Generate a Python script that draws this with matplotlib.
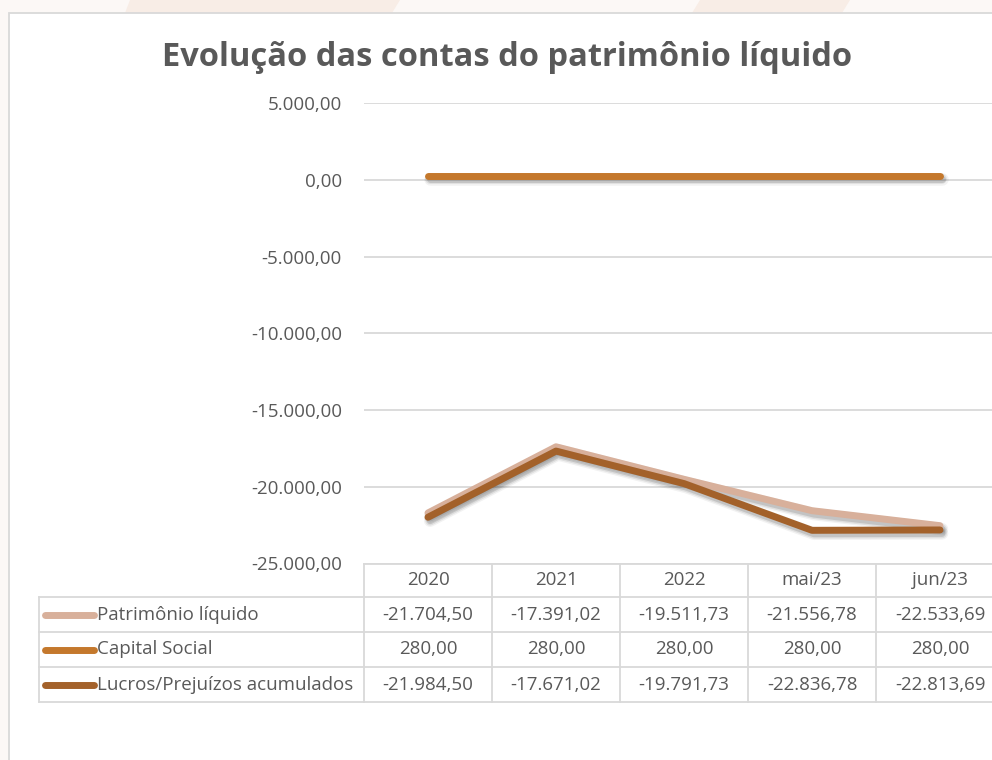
import matplotlib
matplotlib.use("Agg")
import matplotlib.pyplot as plt
import matplotlib.patheffects as pe
from matplotlib.lines import Line2D
from matplotlib.patches import Rectangle, Polygon
from matplotlib.transforms import blended_transform_factory

plt.rcParams['font.family'] = ['Open Sans', 'DejaVu Sans']

# ---- data ----
categories = ["2020", "2021", "2022", "mai/23", "jun/23"]
series_names = ["Patrimônio líquido", "Capital Social", "Lucros/Prejuízos acumulados"]
patrimonio_liquido = [-21704.50, -17391.02, -19511.73, -21556.78, -22533.69]
capital_social = [280.00, 280.00, 280.00, 280.00, 280.00]
lucros_prejuizos = [-21984.50, -17671.02, -19791.73, -22836.78, -22813.69]
y_ticks = [5000, 0, -5000, -10000, -15000, -20000, -25000]
title = "Evolução das contas do patrimônio líquido"

series_values = [patrimonio_liquido, capital_social, lucros_prejuizos]
colors = ["#D8B09B", "#C4782C", "#A3612A"]
TXT = "#595959"
GRID = "#D9D9D9"


def fmt(v):
    s = f"{v:,.2f}"
    return s.replace(",", "X").replace(".", ",").replace("X", ".")


W, H = 992, 760
fig = plt.figure(figsize=(W / 100, H / 100), dpi=100)
fig.patch.set_facecolor("#FCF8F6")

def fx(px):
    return px / W

def fy(py):
    return 1 - py / H

# faint decorative shapes at top
for pts in ([(130, 0), (400, 0), (392, 13), (125, 13)], [(700, 0), (850, 0), (842, 13), (692, 13)]):
    fig.add_artist(Polygon([(fx(a), fy(b)) for a, b in pts], closed=True,
                           transform=fig.transFigure, facecolor="#F8EDE6",
                           edgecolor="none", zorder=0))

# chart area
fig.add_artist(Rectangle((fx(9), fy(800)), fx(1100), fy(13) - fy(800),
                         transform=fig.transFigure, facecolor="white",
                         edgecolor=GRID, linewidth=1.3, zorder=0))

# axes: left at 364px, 128px per category, y 103 -> 563
ax_left, ax_top, ax_bottom = 364, 103.3, 563.5
n = len(categories)
ax = fig.add_axes([fx(ax_left), fy(ax_bottom), fx(128 * n), (ax_bottom - ax_top) / H])
ax.set_facecolor("none")
ax.set_xlim(-0.5, n - 0.5)
ax.set_ylim(-25000, 5000)
ax.set_yticks(y_ticks)
ax.set_yticklabels([fmt(v) for v in y_ticks], fontsize=13.5, color=TXT)
ax.tick_params(axis="y", length=0, pad=16)
ax.set_xticks([])
for sp in ax.spines.values():
    sp.set_visible(False)
ax.grid(axis="y", color=GRID, linewidth=1.3)
ax.set_axisbelow(True)

x = list(range(n))
shadow = [pe.Stroke(offset=(1.5, -2.5), linewidth=9, foreground="black", alpha=0.05),
          pe.Stroke(offset=(1.5, -2.5), linewidth=7, foreground="black", alpha=0.08),
          pe.Stroke(offset=(1.5, -2.5), linewidth=5, foreground="black", alpha=0.12),
          pe.Normal()]
for vals, c in zip(series_values, colors):
    ax.plot(x, vals, color=c, linewidth=5, solid_capstyle="round",
            solid_joinstyle="round", clip_on=False, path_effects=shadow)

fig.text(fx(507), fy(57), title, ha="center", va="center", fontsize=23.5,
         fontweight="bold", color=TXT)

# ---- data table ----
bt = blended_transform_factory(ax.transData, fig.transFigure)
header_top, row_edges = 563.5, [597, 632, 667, 702]
table_left = 39
lw = 1.3

# horizontal lines
fig.add_artist(Line2D([fx(ax_left), fx(1100)], [fy(header_top)] * 2,
                      transform=fig.transFigure, color=GRID, lw=lw))
for yy in row_edges:
    fig.add_artist(Line2D([fx(table_left), fx(1100)], [fy(yy)] * 2,
                          transform=fig.transFigure, color=GRID, lw=lw))
# vertical lines
fig.add_artist(Line2D([fx(table_left)] * 2, [fy(row_edges[0]), fy(row_edges[-1])],
                      transform=fig.transFigure, color=GRID, lw=lw))
for i in range(n + 1):
    ax.add_artist(Line2D([i - 0.5] * 2, [fy(header_top), fy(row_edges[-1])],
                         transform=bt, color=GRID, lw=lw, clip_on=False))

# header
for i, cat in enumerate(categories):
    ax.text(i, fy((header_top + row_edges[0]) / 2), cat, transform=bt,
            ha="center", va="center", fontsize=13.5, color=TXT, clip_on=False)

# rows
for r, (name, vals, c) in enumerate(zip(series_names, series_values, colors)):
    yc = fy((row_edges[r] + row_edges[r + 1]) / 2)
    fig.add_artist(Line2D([fx(45), fx(94)], [yc, yc], transform=fig.transFigure,
                          color=c, lw=5, solid_capstyle="round"))
    fig.text(fx(97), yc, name, ha="left", va="center", fontsize=13.5, color=TXT)
    for i, v in enumerate(vals):
        ax.text(i, yc, fmt(v), transform=bt, ha="center", va="center",
                fontsize=13.5, color=TXT, clip_on=False)

fig.savefig("out.png", dpi=100, facecolor=fig.get_facecolor())
